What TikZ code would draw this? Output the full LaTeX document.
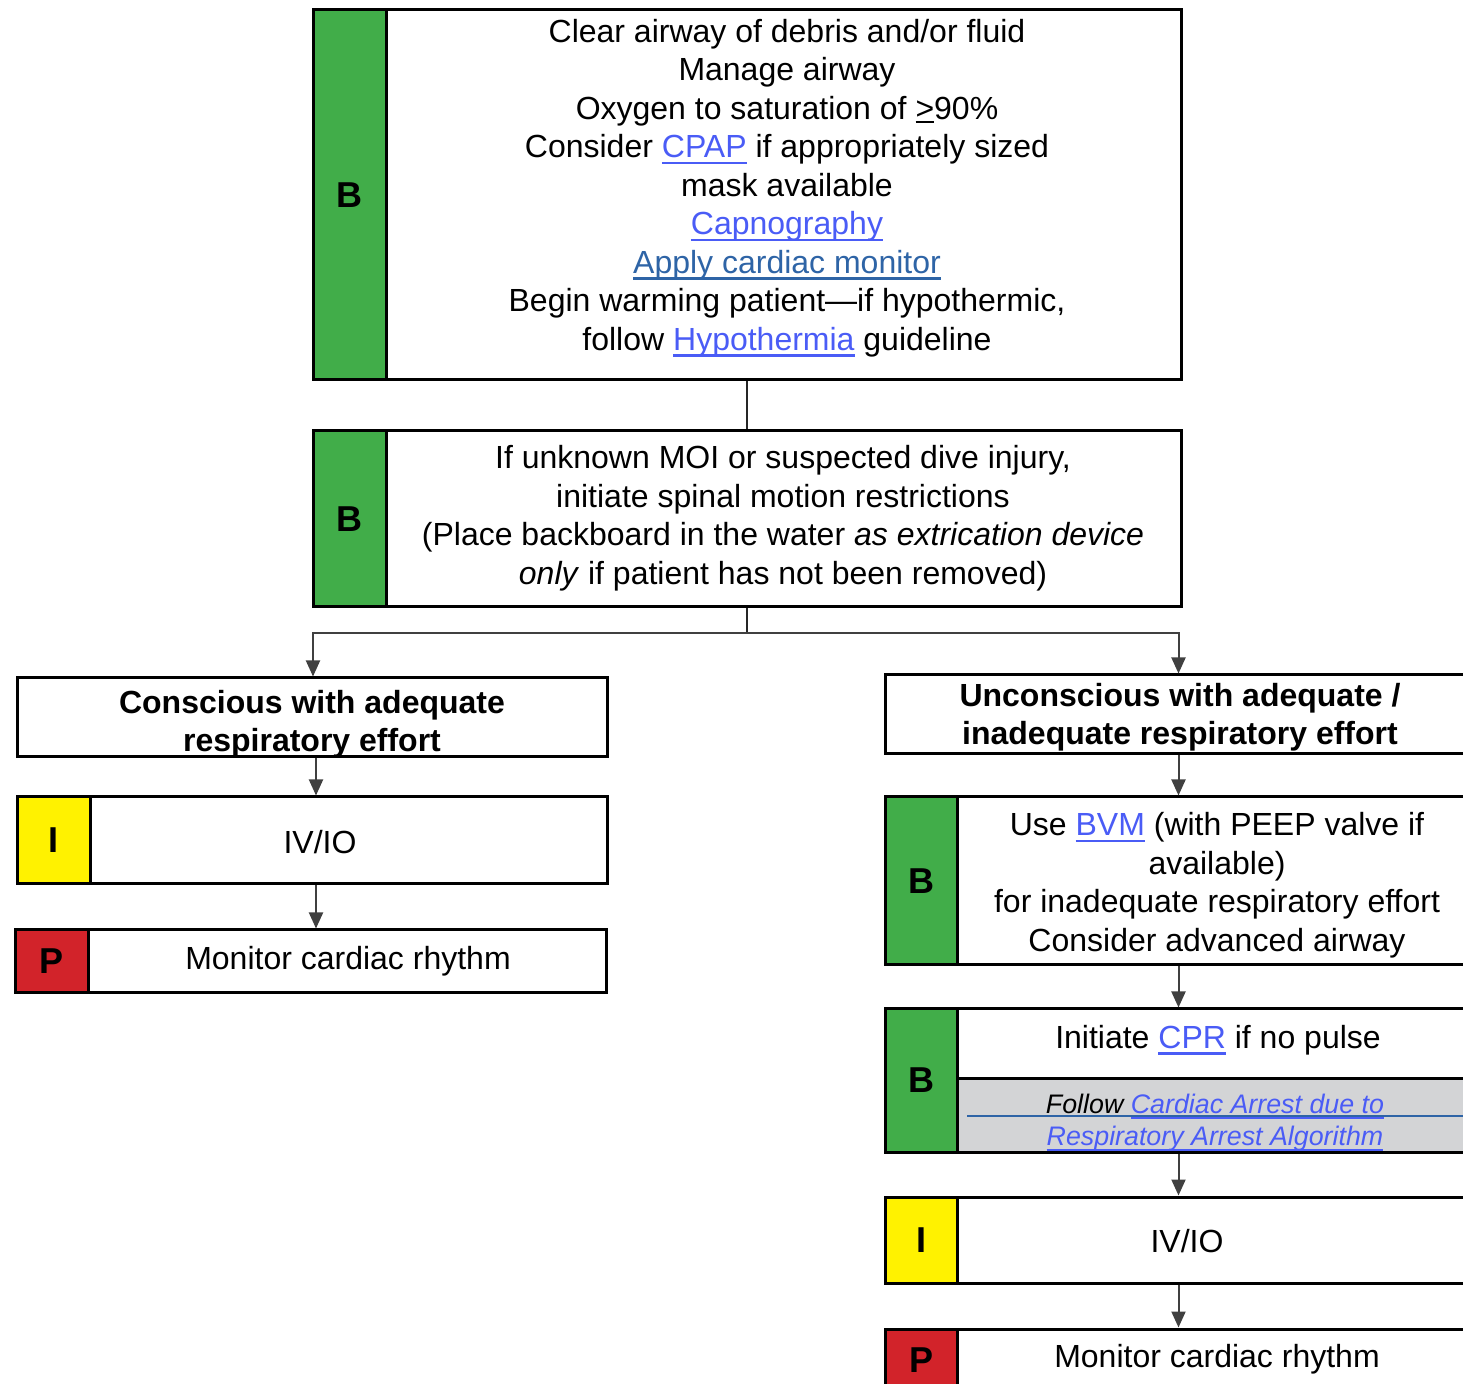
\documentclass[tikz,border=0pt]{standalone}
\usepackage{fontspec}
\setmainfont{Liberation Sans}
\usetikzlibrary{positioning,fit,arrows.meta}

\definecolor{bgreen}{HTML}{41AD49}
\definecolor{iyellow}{HTML}{FFF200}
\definecolor{pred}{HTML}{D2232A}
\definecolor{notegrey}{HTML}{D3D4D6}
\definecolor{linkblue}{HTML}{4A5CF6}
\definecolor{darklink}{HTML}{2E64A6}
\definecolor{arrowgrey}{HTML}{404040}

% underlined link text
\newcommand{\lnk}[2][linkblue]{{\color{#1}\setbox0=\hbox{#2}\rlap{\rule[-0.2em]{\wd0}{0.07em}}\box0}}
\newcommand{\ulsym}[1]{{\setbox0=\hbox{#1}\rlap{\rule[-0.12em]{\wd0}{0.07em}}\box0}}

\begin{document}
\begin{tikzpicture}[x=0.5pt, y=-0.5pt,
    frame/.style={draw, line width=1.5pt, inner sep=0pt},
    tag/.style={frame, fill=#1},
    letter/.style={inner sep=0pt, font=\fontsize{18}{20}\selectfont\bfseries},
    note/.style={frame, fill=notegrey},
    txt/.style={align=center, inner sep=0pt, yshift=-1.5pt, font=\fontsize{16}{19.25}\selectfont},
    head/.style={txt, font=\fontsize{16}{19}\selectfont\bfseries},
    notetxt/.style={txt, font=\fontsize{13.4}{16}\selectfont\itshape},
    trunk/.style={draw=black!85, line width=1pt},
    flow/.style={draw=arrowgrey, line width=1pt, -{Triangle[width=7pt,length=8pt]}}
]
    \useasboundingbox (0,0) rectangle (1463,1384);
    \clip (0,0) rectangle (1463,1384);

    % Top block
    \node [frame, fit={(313,10)(1181,380)}] (airway) {};
    \node [tag=bgreen, fit={(313,10)(386,380)}, label={[letter]center:B}] (airwaytag) {};
    \node [txt] (airwaytxt) at (787,185) {Clear airway of debris and/or fluid\\ Manage airway\\ Oxygen to saturation of \ulsym{>}90\%\\ Consider \lnk{CPAP} if appropriately sized\\ mask available\\ \lnk{Capnography}\\ \lnk[darklink]{Apply cardiac monitor}\\ Begin warming patient—if hypothermic,\\ follow \lnk{Hypothermia} guideline};

    \node [frame, fit={(313,431)(1181,607)}] (spinal) {};
    \node [tag=bgreen, fit={(313,431)(386,607)}, label={[letter]center:B}] (spinaltag) {};
    \node [txt] (spinaltxt) at (783,515) {If unknown MOI or suspected dive injury,\\ initiate spinal motion restrictions\\ (Place backboard in the water \textit{as extrication device}\\ \textit{only} if patient has not been removed)};

    % Left branch
    \node [frame, fit={(17,678)(607,757)}] (conscious) {};
    \node [head] (conscioustxt) at (312,721) {Conscious with adequate\\ respiratory effort};

    \node [frame, fit={(17,797)(607,884)}] (accessl) {};
    \node [tag=iyellow, fit={(17,797)(90,884)}, label={[letter]center:I}] (accessltag) {};
    \node [txt] (accessltxt) at (320,839) {IV/IO};

    \node [frame, fit={(15,930)(606,993)}] (rhythml) {};
    \node [tag=pred, fit={(15,930)(88,993)}, label={[letter]center:P}] (rhythmltag) {};
    \node [txt] (rhythmltxt) at (348,958) {Monitor cardiac rhythm};

    % Right branch
    \node [frame, fit={(885,675)(1476,754)}] (unconscious) {};
    \node [head] (unconscioustxt) at (1180,714) {Unconscious with adequate /\\ inadequate respiratory effort};

    \node [frame, fit={(885,797)(1476,965)}] (bvm) {};
    \node [tag=bgreen, fit={(885,797)(957,965)}, label={[letter]center:B}] (bvmtag) {};
    \node [txt] (bvmtxt) at (1217,882) {Use \lnk{BVM} (with PEEP valve if\\ available)\\ for inadequate respiratory effort\\ Consider advanced airway};

    \node [frame, fit={(885,1009)(1476,1152)}] (cpr) {};
    \node [note, fit={(957,1079)(1476,1152)}] (cprnote) {};
    \node [tag=bgreen, fit={(885,1009)(957,1152)}, label={[letter]center:B}] (cprtag) {};
    \node [txt] (cprtxt) at (1218,1037) {Initiate \lnk{CPR} if no pulse};
    \draw [darklink, line width=0.6pt] (967,1116) -- (1476,1116);
    \node [notetxt] (cprnotetxt) at (1215,1120) {Follow \lnk{Cardiac Arrest due to}\\ \lnk{Respiratory Arrest Algorithm}};

    \node [frame, fit={(885,1197)(1476,1283)}] (accessr) {};
    \node [tag=iyellow, fit={(885,1197)(957,1283)}, label={[letter]center:I}] (accessrtag) {};
    \node [txt] (accessrtxt) at (1187,1238) {IV/IO};

    \node [frame, fit={(885,1329)(1476,1392)}] (rhythmr) {};
    \node [tag=pred, fit={(885,1329)(957,1392)}, label={[letter]center:P}] (rhythmrtag) {};
    \node [txt] (rhythmrtxt) at (1217,1356) {Monitor cardiac rhythm};

    % Connectors
    \draw [trunk] (airway.south) -- (spinal.north);
    \draw [trunk] (spinal.south) -- ++(0,25) coordinate (split);
    \draw [flow] (split) -| ([xshift=0.5pt]conscious.north);
    \draw [flow] (split) -| ([xshift=-1pt]unconscious.north);
    \draw [flow] ([xshift=2pt]conscious.south) -- ([xshift=2pt]accessl.north);
    \draw [flow] ([xshift=2pt]accessl.south) -- ([xshift=2pt]accessl.south |- rhythml.north);
    \draw [flow] ([xshift=-1pt]unconscious.south) -- ([xshift=-1pt]bvm.north);
    \draw [flow] ([xshift=-1pt]bvm.south) -- ([xshift=-1pt]cpr.north);
    \draw [flow] ([xshift=-1pt]cpr.south) -- ([xshift=-1pt]accessr.north);
    \draw [flow] ([xshift=-1pt]accessr.south) -- ([xshift=-1pt]rhythmr.north);
\end{tikzpicture}
\end{document}
